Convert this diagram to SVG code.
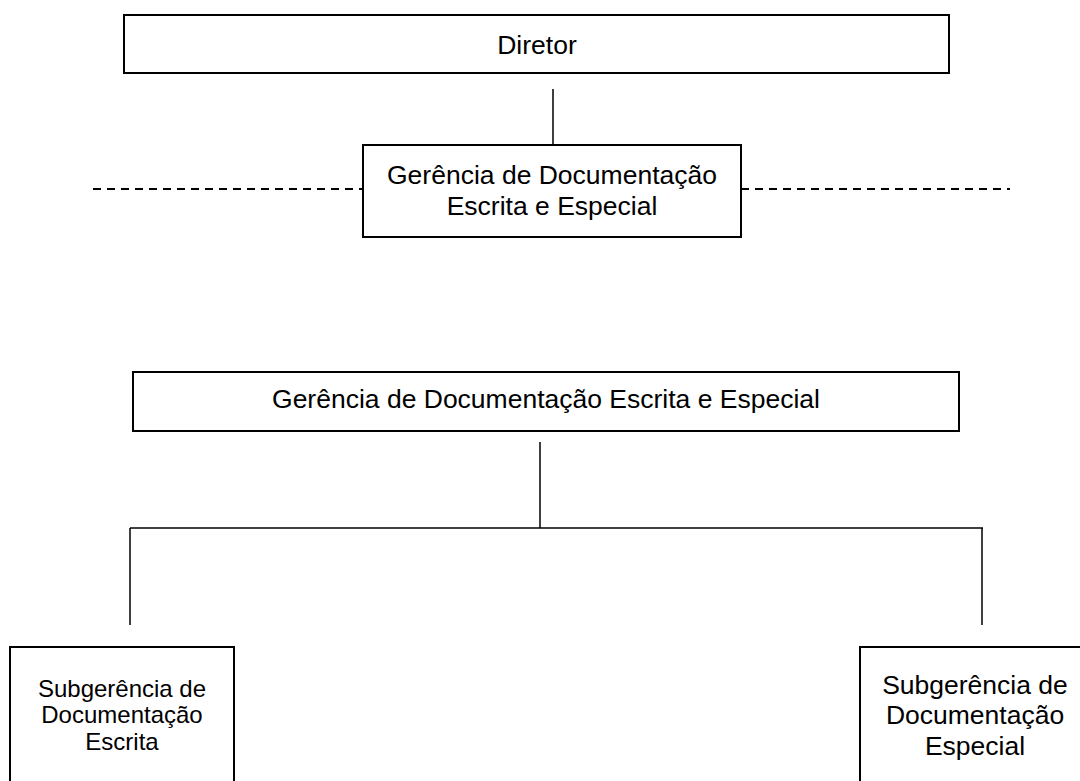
<svg xmlns="http://www.w3.org/2000/svg" width="1080" height="781" viewBox="0 0 1080 781">
<style>
.box{fill:#fff;stroke:#000;stroke-width:2}
.ln{fill:none;stroke:#000;stroke-width:1.5}
.dash{fill:none;stroke:#000;stroke-width:2;stroke-dasharray:8 6}
text{font-family:"Liberation Sans",Arial,sans-serif;fill:#000;text-anchor:middle}
.t{font-size:26.5px}
.s{font-size:24px}
</style>
<rect width="1080" height="781" fill="#fff"/>
<g id="connectors">
<line class="ln" x1="553" y1="89" x2="553" y2="145"/>
<line class="dash" x1="93" y1="189" x2="363" y2="189"/>
<line class="dash" x1="741" y1="189" x2="1010" y2="189"/>
<line class="ln" x1="540" y1="442" x2="540" y2="528"/>
<line class="ln" x1="130" y1="528" x2="983" y2="528"/>
<line class="ln" x1="130" y1="528" x2="130" y2="625"/>
<line class="ln" x1="982" y1="528" x2="982" y2="625"/>
</g>
<g id="diretor">
<rect class="box" x="124" y="15" width="825" height="58"/>
<text class="t" x="537" y="54">Diretor</text>
</g>
<g id="gerencia1">
<rect class="box" x="363" y="145" width="378" height="92"/>
<text class="t" x="552" y="184">Gerência de Documentação</text>
<text class="t" x="552" y="215">Escrita e Especial</text>
</g>
<g id="gerencia2">
<rect class="box" x="133" y="372" width="826" height="59"/>
<text class="t" x="546" y="408">Gerência de Documentação Escrita e Especial</text>
</g>
<g id="subgerencia-escrita">
<rect class="box" x="10" y="647" width="224" height="150"/>
<text class="s" x="122" y="697">Subgerência de</text>
<text class="s" x="122" y="723">Documentação</text>
<text class="s" x="122" y="750">Escrita</text>
</g>
<g id="subgerencia-especial">
<rect class="box" x="860" y="647" width="240" height="150"/>
<text class="t" x="975" y="694">Subgerência de</text>
<text class="t" x="975" y="724">Documentação</text>
<text class="t" x="975" y="755">Especial</text>
</g>
</svg>
